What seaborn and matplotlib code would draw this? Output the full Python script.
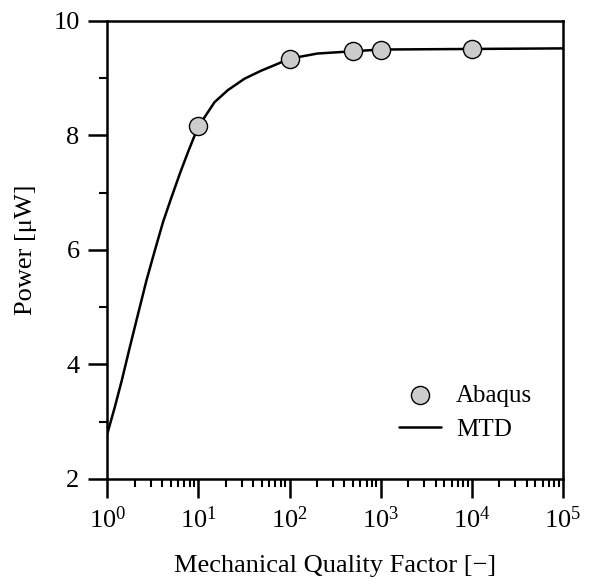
import matplotlib
matplotlib.use("Agg")
import matplotlib.pyplot as plt
import seaborn as sns
import pandas as pd
import numpy as np
from matplotlib.ticker import LogLocator, FixedLocator, NullFormatter

# Data
abaqus_q = [10, 100, 500, 1000, 10000]
abaqus_p = [8.17, 9.34, 9.47, 9.50, 9.51]

mtd_q = [1, 1.21, 1.44, 1.77, 2.18, 2.69, 3.32, 4.09, 5.06, 6.24, 7.68, 9.09, 10,
         11.7, 15.0, 21.0, 32.0, 48.7, 74.0, 100, 202, 500, 1000, 10000, 100000]
mtd_p = [2.79, 3.26, 3.72, 4.31, 4.89, 5.47, 5.99, 6.49, 6.92, 7.33, 7.71, 8.00, 8.17,
         8.32, 8.58, 8.79, 8.99, 9.13, 9.25, 9.34, 9.43, 9.47, 9.50, 9.51, 9.52]

y_major = [2, 4, 6, 8, 10]
y_minor = [3, 5, 7, 9]

sns.set_style("ticks")
plt.rcParams["font.family"] = ["Liberation Serif", "DejaVu Serif"]
plt.rcParams["mathtext.fontset"] = "custom"
plt.rcParams["mathtext.rm"] = "Liberation Serif"
plt.rcParams["mathtext.it"] = "Liberation Serif:italic"
for k in ["text.color", "axes.labelcolor", "xtick.color", "ytick.color", "axes.edgecolor"]:
    plt.rcParams[k] = "black"

fig = plt.figure(figsize=(5.9, 5.81), dpi=100)
ax = fig.add_axes([0.182, 0.176, 0.772, 0.788])

mtd_df = pd.DataFrame({"Q": mtd_q, "P": mtd_p})
ab_df = pd.DataFrame({"Q": abaqus_q, "P": abaqus_p})

sns.lineplot(data=mtd_df, x="Q", y="P", ax=ax, color="black", lw=1.8, label="MTD", zorder=2)
sns.scatterplot(data=ab_df, x="Q", y="P", ax=ax, s=170, color="#cccccc",
                edgecolor="black", linewidth=1.0, label="Abaqus", zorder=3)

ax.set_xscale("log")
ax.set_xlim(1, 1e5)
ax.set_ylim(2, 10)
ax.yaxis.set_major_locator(FixedLocator(y_major))
ax.yaxis.set_minor_locator(FixedLocator(y_minor))
ax.xaxis.set_major_locator(LogLocator(base=10, numticks=10))
ax.xaxis.set_minor_locator(LogLocator(base=10, subs=np.arange(2, 10), numticks=20))
ax.xaxis.set_minor_formatter(NullFormatter())

ax.tick_params(axis="both", which="major", direction="out", length=14, width=1.8,
               labelsize=19, pad=6, top=False, right=False, colors="black")
ax.tick_params(axis="both", which="minor", direction="out", length=6, width=1.5,
               top=False, right=False, colors="black")
for s in ax.spines.values():
    s.set_linewidth(1.8)
    s.set_color("black")
    s.set_visible(True)

ax.set_xlabel("Mechanical Quality Factor [\u2212]", fontsize=19, labelpad=16)
ax.set_ylabel("Power [\u03bcW]", fontsize=19, labelpad=12)

handles, labels = ax.get_legend_handles_labels()
order = [labels.index("Abaqus"), labels.index("MTD")]
leg = ax.legend([handles[i] for i in order], [labels[i] for i in order],
                loc="upper left", bbox_to_anchor=(0.59, 0.255), frameon=False,
                fontsize=18, handlelength=1.7, handletextpad=0.6, labelspacing=0.45)

fig.savefig("out.png", dpi=100)
